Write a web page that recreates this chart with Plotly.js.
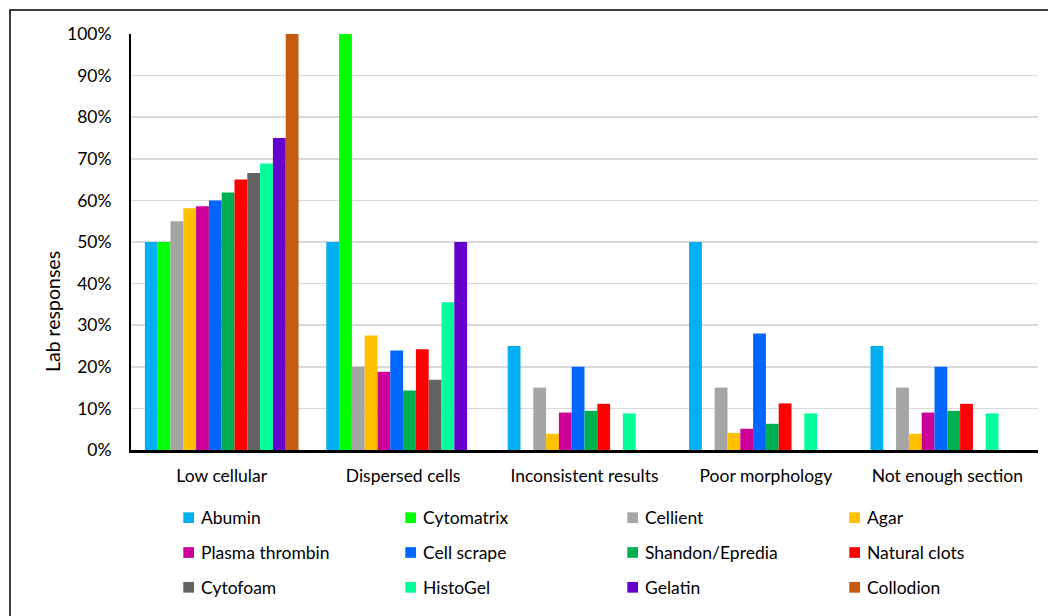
<!DOCTYPE html>
<html>
<head>
<meta charset="utf-8">
<script src="https://cdn.plot.ly/plotly-3.0.1.min.js"></script>
<style>html,body{margin:0;padding:0;background:#fff;}#chart{width:1048px;height:616px;}</style>
</head>
<body>
<div id="chart"></div>
<script>
const categories = ["Low cellular", "Dispersed cells", "Inconsistent results", "Poor morphology", "Not enough section"];
const seriesNames = ["Abumin", "Cytomatrix", "Cellient", "Agar", "Plasma thrombin", "Cell scrape", "Shandon/Epredia", "Natural clots", "Cytofoam", "HistoGel", "Gelatin", "Collodion"];
const abumin         = [0.50, 0.50, 0.25, 0.50, 0.25];
const cytomatrix     = [0.50, 1.00, 0, 0, 0];
const cellient       = [0.55, 0.20, 0.15, 0.15, 0.15];
const agar           = [0.581, 0.275, 0.039, 0.041, 0.039];
const plasmaThrombin = [0.586, 0.188, 0.09, 0.051, 0.09];
const cellScrape     = [0.60, 0.239, 0.20, 0.28, 0.20];
const shandon        = [0.619, 0.143, 0.094, 0.063, 0.094];
const naturalClots   = [0.65, 0.242, 0.111, 0.112, 0.111];
const cytofoam       = [0.666, 0.169, 0, 0, 0];
const histoGel       = [0.689, 0.355, 0.088, 0.088, 0.088];
const gelatin        = [0.75, 0.50, 0, 0, 0];
const collodion      = [1.00, 0, 0, 0, 0];
const seriesValues = [abumin, cytomatrix, cellient, agar, plasmaThrombin, cellScrape, shandon, naturalClots, cytofoam, histoGel, gelatin, collodion];
const colors = ["#00B0F0", "#00FF00", "#A5A5A5", "#FFC000", "#CC0099", "#0066FF", "#00B050", "#FF0000", "#636363", "#00FF99", "#6600CC", "#C55A11"];
const yTicks = [0, 0.1, 0.2, 0.3, 0.4, 0.5, 0.6, 0.7, 0.8, 0.9, 1.0];

const FONT = "Lato, 'Open Sans', sans-serif";
const FS = 17.5;

const traces = seriesNames.map((name, i) => ({
  type: "bar",
  name: name,
  x: categories,
  y: seriesValues[i],
  marker: {color: colors[i], line: {width: 0}},
  showlegend: false,
  hoverinfo: "x+y+name"
}));

// plot area: left 131, right 1038, top 34, bottom 450
const W = 1048, H = 616, L = 131, R = W - 1038, T = 34, B = H - 450;
const pw = W - L - R, ph = H - T - B;
const px2x = p => (p - L) / pw;
const py2y = p => (H - B - p) / ph;

// legend laid out as a 4-column grid below the plot
const legCol0 = 183.3, legColStep = 222, legRow0 = 517.7, legRowStep = 34.8, legBox = 10.7, legTextGap = 5.3;
const legendShapes = [], legendTexts = [];
seriesNames.forEach((name, i) => {
  const col = i % 4, row = Math.floor(i / 4);
  const x0 = legCol0 + col * legColStep;
  const yc = legRow0 + row * legRowStep;
  legendShapes.push({
    type: "rect", xref: "paper", yref: "paper",
    x0: px2x(x0), x1: px2x(x0 + legBox),
    y0: py2y(yc + legBox / 2), y1: py2y(yc - legBox / 2),
    line: {width: 0}, fillcolor: colors[i]
  });
  legendTexts.push({
    text: name, xref: "paper", yref: "paper",
    x: px2x(x0 + legBox + legTextGap), y: py2y(yc),
    xanchor: "left", yanchor: "middle", showarrow: false,
    font: {family: FONT, size: FS, color: "#000"}
  });
});

const layout = {
  width: W, height: H,
  margin: {l: L, r: R, t: T, b: B, autoexpand: false},
  paper_bgcolor: "#fff", plot_bgcolor: "#fff",
  font: {family: FONT, size: FS, color: "#000"},
  barmode: "group",
  bargap: 0.153,
  bargroupgap: 0,
  showlegend: false,
  xaxis: {
    type: "category",
    showline: true, linecolor: "#000", linewidth: 2.5,
    showgrid: false, ticks: "", ticklabelstandoff: 8,
    tickfont: {family: FONT, size: FS, color: "#000"},
    zeroline: false, automargin: false
  },
  yaxis: {
    range: [0, 1],
    tickvals: yTicks,
    tickformat: ".0%",
    showline: true, linecolor: "#000", linewidth: 2,
    showgrid: true, gridcolor: "#D9D9D9", gridwidth: 1.5,
    zeroline: false, ticks: "", ticklabelstandoff: 14,
    tickfont: {family: FONT, size: FS, color: "#000"},
    automargin: false
  },
  annotations: [{
    text: "Lab responses",
    xref: "paper", yref: "paper",
    x: px2x(52), y: py2y(312),
    xanchor: "center", yanchor: "middle",
    textangle: -90, showarrow: false,
    font: {family: FONT, size: 19.5, color: "#000"}
  }].concat(legendTexts),
  shapes: [{
    type: "rect", xref: "paper", yref: "paper",
    x0: px2x(10), x1: px2x(1070), y0: py2y(640), y1: py2y(10),
    line: {color: "#000", width: 1.5}, fillcolor: "rgba(0,0,0,0)", layer: "below"
  }].concat(legendShapes)
};

Plotly.newPlot("chart", traces, layout, {displayModeBar: false, staticPlot: true});
</script>
</body>
</html>
